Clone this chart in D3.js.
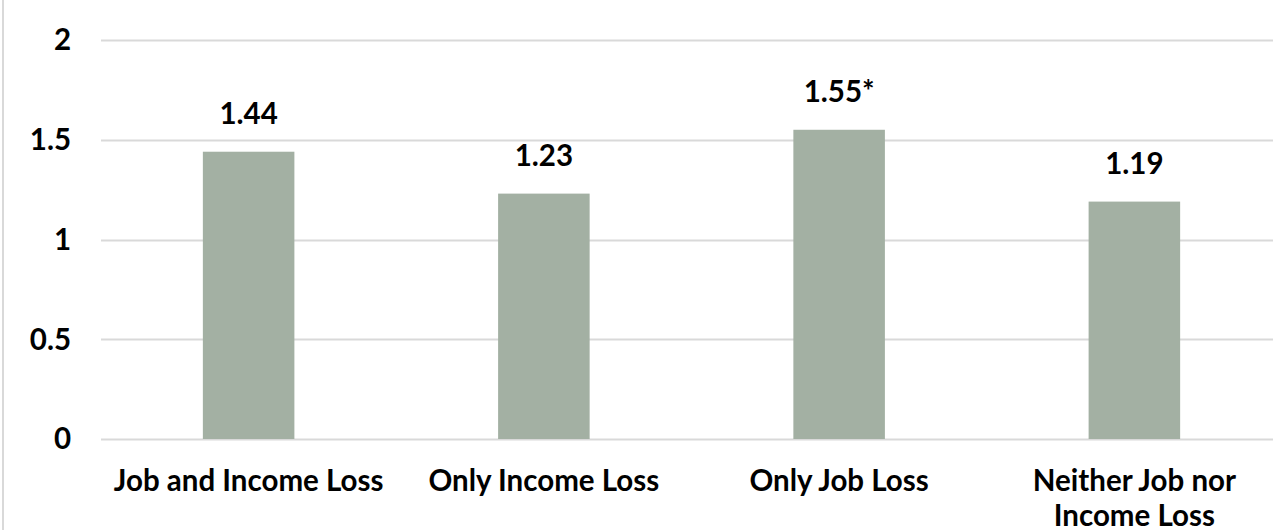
<!DOCTYPE html>
<html>
<head>
<meta charset="utf-8">
<script src="https://cdn.jsdelivr.net/npm/d3@7"></script>
<style>
  html, body { margin: 0; padding: 0; background: #fff; }
  svg { display: block; }
  text { font-family: Lato, "Open Sans", sans-serif; font-weight: 700; fill: #000; }
</style>
</head>
<body>
<svg id="chart" width="1273" height="530"></svg>
<script>
// Mean score by employment / income change group
const categories = ["Job and Income Loss", "Only Income Loss", "Only Job Loss", "Neither Job nor Income Loss"];
const categoryLines = [["Job and Income Loss"], ["Only Income Loss"], ["Only Job Loss"], ["Neither Job nor", "Income Loss"]];
const values = [1.44, 1.23, 1.55, 1.19];
const valueLabels = ["1.44", "1.23", "1.55*", "1.19"];
const yTicks = [0, 0.5, 1, 1.5, 2];
const yTickLabels = ["0", "0.5", "1", "1.5", "2"];

const svg = d3.select("#chart");
const W = 1273, H = 530;
const plot = { left: 101, right: 1282, top: 40, bottom: 439 };
const FS = 29.5;

const x = d3.scaleBand()
  .domain(categories)
  .range([plot.left, plot.right])
  .paddingInner(0.69)
  .paddingOuter(0.345);

const y = d3.scaleLinear().domain([0, 2]).range([plot.bottom, plot.top]);

// outer frame line on the left
svg.append("line")
  .attr("x1", 3).attr("x2", 3).attr("y1", 0).attr("y2", H)
  .attr("stroke", "#d9d9d9").attr("stroke-width", 2);

// gridlines
svg.append("g")
  .selectAll("line")
  .data(yTicks)
  .join("line")
  .attr("x1", plot.left).attr("x2", W)
  .attr("y1", d => Math.round(y(d)) + 0.5)
  .attr("y2", d => Math.round(y(d)) + 0.5)
  .attr("stroke", "#d9d9d9").attr("stroke-width", 2);

// y axis labels
const yAxis = d3.axisLeft(y).tickValues(yTicks)
  .tickFormat((d, i) => yTickLabels[i]).tickSize(0).tickPadding(0);
const yg = svg.append("g").attr("transform", "translate(71,0)").call(yAxis);
yg.select(".domain").remove();
yg.selectAll("text")
  .attr("font-size", FS)
  .attr("font-family", "Lato, 'Open Sans', sans-serif")
  .attr("font-weight", 700)
  .attr("fill", "#000")
  .attr("dy", "0.33em");

// bars
svg.append("g")
  .selectAll("rect")
  .data(values)
  .join("rect")
  .attr("x", (d, i) => x(categories[i]))
  .attr("width", x.bandwidth())
  .attr("y", d => y(d))
  .attr("height", d => y(0) - y(d))
  .attr("fill", "#a3b0a3");

// value labels
svg.append("g")
  .selectAll("text")
  .data(values)
  .join("text")
  .attr("x", (d, i) => x(categories[i]) + x.bandwidth() / 2)
  .attr("y", d => y(d) - 28)
  .attr("text-anchor", "middle")
  .attr("font-size", FS)
  .text((d, i) => valueLabels[i]);

// category labels
const cg = svg.append("g")
  .selectAll("text")
  .data(categories)
  .join("text")
  .attr("x", d => x(d) + x.bandwidth() / 2)
  .attr("y", 491)
  .attr("text-anchor", "middle")
  .attr("font-size", FS);
cg.selectAll("tspan")
  .data((d, i) => categoryLines[i])
  .join("tspan")
  .attr("x", function () { return d3.select(this.parentNode).attr("x"); })
  .attr("dy", (d, j) => j === 0 ? 0 : 35)
  .text(d => d);
</script>
</body>
</html>
